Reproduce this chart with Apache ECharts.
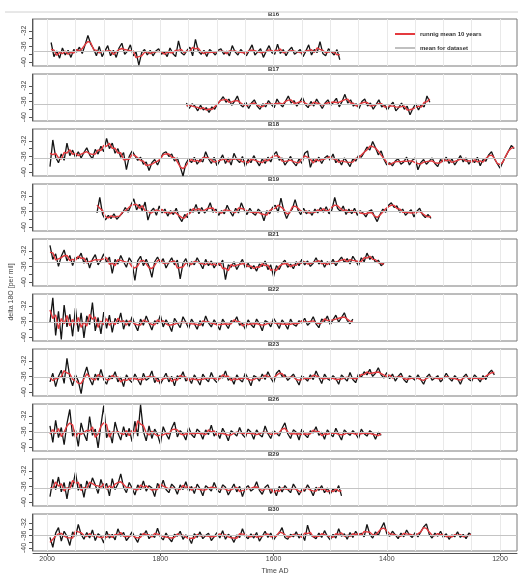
<!DOCTYPE html>
<html>
<head>
<meta charset="utf-8">
<script src="https://cdn.jsdelivr.net/npm/echarts@6/dist/echarts.min.js"></script>
<style>html,body{margin:0;padding:0;background:#fff;}#c{width:518px;height:576px;}</style>
</head>
<body>
<div id="c"></div>
<script>
const seriesNames = ['B16','B17','B18','B19','B21','B22','B23','B26','B29','B30'];
const startYears = [1993,1754,1995,1912,1995,1995,1995,1995,1995,1995];
const yearStep = 5;
const xLabelValues = [2000,1800,1600,1400,1200];
const yTickValues = [-40,-38,-36,-34,-32];
const yLabelValues = [-40,-36,-32];
const gridYears = [2000,1950,1900,1850,1800,1750,1700,1650,1600,1550,1500,1450,1400,1350,1300,1250,1200];
const legendNames = ['runnig mean 10 years','mean for dataset'];

const b16 = [-35.0,-38.6,-37.2,-39.0,-36.4,-38.2,-37.0,-38.8,-36.8,-37.4,
-36.2,-37.8,-35.6,-33.2,-35.4,-36.6,-38.4,-36.0,-38.6,-37.2,
-35.8,-38.4,-37.0,-38.8,-36.4,-35.2,-38.0,-37.2,-35.6,-38.4,
-37.4,-40.8,-37.6,-36.8,-38.2,-37.0,-38.4,-37.2,-36.6,-38.0,
-37.4,-38.6,-36.4,-37.8,-38.6,-34.6,-37.6,-38.2,-37.0,-36.2,
-38.4,-34.2,-37.2,-38.0,-37.0,-38.6,-36.8,-37.4,-38.2,-37.0,
-36.6,-38.0,-37.2,-38.4,-35.8,-37.4,-38.2,-36.8,-37.6,-38.4,
-37.0,-35.6,-38.2,-37.4,-36.6,-38.8,-37.2,-35.8,-37.6,-38.0,
-35.4,-37.8,-36.8,-38.4,-37.0,-36.2,-38.0,-37.4,-36.8,-38.6,
-37.2,-35.6,-38.2,-36.8,-37.6,-34.8,-37.8,-38.4,-36.6,-37.4,
-38.2,-36.8,-39.4];
const b17 = [-36.4,-37.8,-36.6,-37.2,-38.4,-37.0,-38.2,-37.6,-38.8,-37.4,
-38.0,-36.6,-35.8,-34.8,-36.2,-35.4,-37.0,-36.0,-34.6,-36.8,
-37.4,-36.2,-37.8,-36.4,-35.6,-37.2,-38.0,-36.6,-37.4,-35.8,
-36.8,-37.6,-35.4,-36.6,-37.4,-36.0,-34.6,-36.4,-35.8,-37.2,
-36.2,-35.0,-36.8,-37.6,-36.0,-37.2,-35.4,-36.6,-37.8,-36.4,
-35.6,-37.0,-36.2,-35.2,-37.4,-36.0,-34.2,-36.4,-35.6,-37.2,
-36.6,-37.8,-36.0,-35.4,-37.2,-36.4,-38.0,-36.8,-35.6,-37.4,
-36.8,-38.2,-37.0,-36.2,-38.4,-37.6,-36.4,-38.0,-37.2,-39.4,
-37.8,-36.6,-38.2,-36.8,-37.4,-34.6,-36.2];
const b18 = [-38.6,-31.8,-36.2,-37.6,-35.4,-37.0,-32.6,-35.8,-34.4,-36.2,
-34.8,-36.4,-35.0,-33.8,-35.6,-36.6,-34.2,-35.4,-33.4,-34.8,
-31.4,-34.0,-32.6,-35.2,-34.0,-36.2,-35.0,-39.4,-36.0,-34.6,
-35.8,-37.0,-36.2,-38.0,-37.4,-39.6,-37.6,-36.8,-38.2,-36.6,
-35.2,-34.8,-36.0,-35.4,-37.2,-36.4,-38.6,-41.0,-37.8,-36.6,
-37.6,-36.2,-38.0,-36.8,-37.4,-34.8,-36.6,-37.8,-36.2,-38.4,
-37.0,-35.6,-37.8,-36.4,-38.2,-35.2,-36.8,-37.6,-36.0,-38.6,
-36.8,-37.6,-35.8,-37.2,-38.4,-36.6,-37.8,-36.2,-37.4,-35.6,
-34.8,-37.0,-36.4,-38.2,-37.2,-36.0,-37.6,-38.4,-36.6,-37.8,
-35.2,-34.6,-38.8,-36.8,-37.4,-36.2,-37.8,-36.4,-35.8,-37.0,
-35.4,-37.6,-36.8,-38.2,-36.4,-37.4,-38.6,-36.6,-37.2,-35.8,
-36.2,-35.0,-33.6,-34.4,-32.2,-33.8,-35.6,-34.6,-36.8,-38.2,
-37.6,-38.4,-37.2,-36.6,-38.0,-37.4,-36.2,-38.2,-37.0,-36.4,
-39.4,-37.6,-36.8,-38.0,-37.2,-36.4,-37.8,-38.6,-36.8,-37.4,
-36.2,-37.8,-36.6,-38.2,-37.0,-35.8,-37.4,-36.4,-38.0,-36.8,
-37.6,-36.2,-38.4,-36.8,-37.2,-35.6,-34.8,-36.6,-37.8,-39.0,
-37.4,-36.0,-34.6,-33.2,-34.0];
const b19 = [-36.4,-32.4,-36.8,-38.2,-37.0,-37.8,-36.6,-38.0,-37.2,-36.4,
-35.0,-36.2,-34.4,-32.8,-35.6,-34.2,-35.8,-33.6,-38.2,-36.0,
-35.2,-37.0,-34.6,-36.4,-35.4,-37.2,-35.8,-36.8,-35.2,-37.4,
-38.6,-36.8,-37.6,-35.4,-36.2,-34.2,-36.6,-35.0,-36.4,-35.6,
-33.8,-36.2,-35.4,-37.0,-35.8,-36.6,-34.4,-36.0,-37.2,-35.2,
-36.4,-33.8,-35.6,-36.8,-35.2,-36.4,-37.0,-35.4,-36.2,-38.4,
-35.8,-36.6,-35.0,-34.4,-36.2,-32.6,-35.8,-37.8,-36.2,-35.4,
-33.0,-35.6,-36.8,-35.2,-36.6,-35.8,-37.0,-35.4,-36.4,-35.0,
-36.2,-34.8,-36.6,-35.6,-32.4,-35.2,-36.0,-34.6,-36.8,-35.4,
-36.6,-35.2,-37.0,-35.8,-36.4,-37.4,-36.0,-35.6,-37.2,-38.6,
-36.8,-35.4,-36.2,-34.4,-33.8,-35.0,-34.6,-36.2,-35.4,-37.0,
-36.2,-35.6,-37.4,-36.0,-35.2,-36.8,-37.6,-36.8,-37.8];
const b21 = [-30.6,-34.2,-32.8,-36.0,-33.4,-31.8,-34.6,-33.2,-35.8,-33.6,
-34.0,-32.6,-35.2,-33.8,-36.4,-34.2,-33.0,-35.6,-34.4,-32.8,
-35.0,-33.6,-37.8,-34.2,-35.4,-33.2,-34.8,-36.2,-33.8,-35.0,
-39.6,-34.6,-33.4,-35.8,-34.2,-36.0,-38.8,-34.8,-33.6,-35.2,
-34.0,-36.4,-35.0,-33.8,-35.6,-34.4,-39.2,-35.2,-34.0,-36.2,
-34.8,-35.6,-33.8,-35.2,-36.6,-34.2,-35.8,-34.6,-36.4,-35.0,
-35.8,-34.4,-39.4,-35.6,-36.2,-34.8,-36.8,-35.4,-34.2,-36.4,
-35.2,-36.6,-35.8,-37.2,-35.4,-36.0,-34.6,-36.8,-35.6,-38.6,
-35.8,-36.8,-35.2,-34.4,-36.2,-35.4,-36.6,-34.8,-35.8,-34.2,
-35.6,-34.6,-36.0,-35.2,-33.8,-35.4,-34.4,-36.2,-34.8,-35.6,
-34.2,-35.8,-34.6,-33.6,-35.0,-34.0,-35.4,-33.4,-34.6,-35.8,
-33.8,-34.8,-32.6,-34.2,-33.4,-35.0,-34.4,-35.8,-35.2];
const b22 = [-36.2,-30.0,-39.6,-33.4,-40.6,-31.8,-37.4,-34.2,-39.8,-32.6,
-38.6,-33.8,-40.2,-34.6,-36.8,-31.2,-38.4,-35.0,-39.2,-33.6,
-37.8,-34.4,-38.8,-35.2,-36.6,-33.8,-38.0,-35.6,-37.2,-34.8,
-36.8,-38.4,-35.4,-37.0,-34.6,-36.4,-38.2,-35.8,-36.6,-34.4,
-37.4,-35.6,-36.8,-38.6,-35.2,-36.4,-37.6,-34.8,-36.2,-37.8,
-35.4,-36.6,-38.0,-35.8,-37.2,-34.6,-36.4,-37.4,-35.6,-36.8,
-38.2,-35.4,-36.6,-37.8,-35.8,-36.2,-34.8,-37.0,-36.4,-38.0,
-35.6,-36.8,-37.6,-35.4,-36.6,-38.4,-35.8,-36.2,-37.4,-35.2,
-36.4,-37.8,-35.6,-36.6,-38.0,-35.4,-36.8,-37.2,-35.8,-36.4,
-35.2,-37.0,-36.2,-34.8,-36.6,-37.6,-35.4,-36.0,-34.6,-36.8,
-35.6,-34.4,-36.2,-35.0,-33.8,-35.8,-36.6,-35.4];
const b23 = [-37.4,-35.2,-38.6,-36.0,-34.4,-37.8,-31.4,-36.2,-38.4,-35.6,
-37.2,-40.4,-35.8,-33.6,-36.6,-38.2,-35.4,-37.0,-34.2,-36.8,
-38.0,-35.8,-36.6,-34.8,-37.4,-36.2,-38.6,-35.6,-36.8,-37.6,
-35.4,-36.8,-38.2,-35.2,-37.0,-36.4,-34.6,-37.6,-36.2,-38.0,
-36.6,-35.2,-37.4,-36.0,-38.4,-35.8,-36.6,-34.8,-37.2,-36.4,
-37.8,-35.6,-36.8,-38.2,-35.4,-36.6,-37.4,-35.0,-36.8,-37.6,
-35.8,-36.4,-34.6,-37.0,-36.2,-38.0,-35.6,-36.8,-37.4,-35.2,
-36.6,-38.4,-35.8,-36.2,-37.2,-35.4,-36.8,-34.8,-36.4,-37.6,
-35.2,-34.4,-36.0,-35.6,-37.0,-36.2,-35.4,-36.8,-38.2,-35.8,
-36.4,-37.2,-35.6,-36.8,-34.6,-36.2,-37.8,-35.4,-36.6,-37.0,
-35.8,-36.6,-38.0,-35.6,-36.4,-37.2,-35.0,-36.8,-37.6,-35.4,
-36.2,-34.8,-35.6,-34.2,-36.0,-35.2,-33.8,-35.6,-36.4,-35.0,
-36.6,-35.4,-37.2,-36.0,-35.2,-36.8,-37.6,-35.8,-36.4,-37.0,
-35.6,-36.8,-38.0,-36.2,-35.4,-37.0,-36.4,-35.8,-37.4,-36.6,
-35.2,-36.4,-37.2,-35.8,-36.6,-38.0,-36.2,-35.4,-36.8,-37.2,
-35.6,-36.4,-37.4,-35.8,-36.8,-35.2,-34.4,-35.6];
const b26 = [-34.6,-38.8,-33.2,-37.6,-35.0,-39.4,-34.0,-30.4,-37.2,-35.6,
-39.8,-33.8,-36.6,-38.4,-32.2,-37.0,-35.4,-40.2,-34.4,-29.4,
-37.6,-35.8,-39.0,-33.6,-36.4,-38.2,-34.8,-37.4,-35.2,-38.6,
-33.4,-37.2,-29.2,-36.0,-38.4,-34.6,-37.8,-35.4,-36.8,-39.2,
-34.8,-36.6,-38.0,-35.2,-33.6,-37.4,-35.8,-36.6,-38.2,-35.0,
-36.8,-37.6,-35.4,-36.2,-38.0,-35.6,-36.8,-34.4,-37.2,-36.0,
-37.8,-35.2,-36.6,-38.4,-35.8,-36.4,-37.2,-35.0,-36.8,-37.6,
-35.4,-36.2,-38.0,-35.6,-36.8,-37.4,-34.6,-36.6,-37.8,-35.8,
-36.4,-37.2,-35.2,-33.8,-36.6,-37.8,-35.6,-36.2,-38.2,-35.4,
-36.8,-37.6,-35.8,-36.4,-34.8,-37.0,-36.2,-38.0,-35.6,-36.6,
-37.4,-35.2,-36.8,-38.2,-35.6,-36.4,-37.0,-35.8,-36.6,-37.8,
-35.4,-36.6,-37.2,-35.8,-36.4,-38.0,-36.2,-37.0];
const b29 = [-38.6,-34.2,-36.8,-33.6,-37.4,-35.0,-39.2,-34.8,-36.2,-32.4,
-37.0,-35.4,-38.8,-34.6,-36.4,-33.8,-35.6,-37.8,-34.2,-36.6,
-35.2,-38.4,-34.0,-36.8,-35.4,-32.8,-36.2,-37.6,-35.0,-36.4,
-38.2,-35.6,-36.8,-34.6,-37.2,-35.8,-36.4,-38.6,-35.2,-36.6,
-34.4,-36.8,-37.6,-35.4,-36.2,-38.0,-35.6,-36.8,-34.8,-37.2,
-36.0,-37.8,-35.4,-36.6,-38.4,-35.8,-36.4,-37.2,-35.0,-36.8,
-37.6,-35.6,-36.2,-38.2,-36.8,-35.4,-37.4,-36.0,-38.6,-36.4,
-35.8,-37.2,-36.6,-34.8,-37.0,-38.0,-36.2,-35.6,-37.8,-36.6,
-38.4,-36.0,-37.4,-35.8,-36.8,-37.6,-35.4,-36.6,-38.2,-36.8,
-37.2,-35.6,-36.8,-38.4,-36.2,-37.0,-35.8,-37.6,-36.4,-38.0,
-36.6,-37.4,-35.8,-38.4];
const b30 = [-36.6,-39.8,-35.2,-33.4,-37.8,-34.6,-36.2,-39.2,-34.8,-36.4,
-32.4,-35.6,-37.2,-35.0,-36.8,-34.2,-37.6,-35.4,-36.2,-38.4,
-34.6,-36.8,-35.6,-37.4,-33.8,-36.2,-35.0,-37.6,-36.4,-34.8,
-36.6,-38.2,-35.4,-36.0,-34.4,-37.0,-35.8,-36.6,-33.6,-36.4,
-37.4,-35.2,-36.8,-38.0,-35.6,-36.2,-34.6,-37.2,-35.8,-36.6,
-38.6,-35.4,-36.6,-34.8,-37.0,-36.0,-35.2,-37.6,-36.4,-35.0,
-36.8,-34.4,-37.2,-35.6,-36.4,-38.2,-35.8,-36.6,-33.8,-36.2,
-37.0,-35.4,-36.8,-35.0,-37.8,-36.2,-34.6,-36.6,-35.2,-37.4,
-36.0,-35.2,-33.4,-36.6,-37.2,-35.6,-36.4,-34.8,-36.8,-35.4,
-37.6,-32.6,-35.8,-36.4,-37.0,-35.2,-36.6,-34.4,-36.2,-37.4,
-35.6,-36.8,-33.8,-36.2,-35.4,-37.2,-35.0,-36.6,-34.6,-36.0,
-35.2,-36.4,-32.4,-35.6,-36.8,-34.8,-36.0,-33.6,-31.8,-35.4,
-36.2,-34.6,-35.8,-37.0,-35.2,-36.4,-34.2,-35.8,-36.6,-35.0,
-36.4,-34.8,-33.2,-32.2,-35.6,-36.8,-35.2,-36.2,-34.6,-36.6,
-35.4,-37.2,-35.8,-36.4,-34.8,-36.6,-35.6,-37.0,-35.2,-35.8];

const dataSets = [b16,b17,b18,b19,b21,b22,b23,b26,b29,b30];

// layout / style constants
const X_MIN = 1170, X_MAX = 2025, Y_MIN = -41, Y_MAX = -29;
const BOX_LEFT = 33, BOX_RIGHT = 1, BOX_TOP0 = 19, BOX_PITCH = 55, BOX_H = 47;
const nPanels = seriesNames.length;

function toPairs(vals, start) {
  return vals.map((v, i) => [start - i * yearStep, v]);
}
function runningMean(vals, half) {
  return vals.map((v, i) => {
    let s = 0, n = 0;
    for (let k = i - half; k <= i + half; k++) {
      if (k >= 0 && k < vals.length) { s += vals[k]; n++; }
    }
    return s / n;
  });
}
function mean(vals) { return vals.reduce((a, b) => a + b, 0) / vals.length; }

const grids = [], xAxes = [], yAxes = [], series = [], graphics = [];
for (let i = 0; i < nPanels; i++) {
  const last = i === nPanels - 1;
  const top = BOX_TOP0 + BOX_PITCH * i;
  grids.push({left: BOX_LEFT, right: BOX_RIGHT, top: top, height: BOX_H,
    show: true, borderColor: '#7a7a7a', borderWidth: 1, backgroundColor: 'rgba(0,0,0,0)'});
  xAxes.push({type: 'value', gridIndex: i, min: X_MIN, max: X_MAX, inverse: true,
    axisLine: {show: last, onZero: false, lineStyle: {color: '#555', width: 1}},
    offset: last ? 2 : 0,
    axisTick: {show: last, length: 3, customValues: xLabelValues, lineStyle: {color: '#555'}},
    axisLabel: {show: last, customValues: xLabelValues, fontSize: 7, color: '#444', margin: 3,
      fontFamily: 'Liberation Sans', formatter: v => String(v)},
    splitLine: {show: false},
    name: last ? 'Time AD' : '', nameLocation: 'middle', nameGap: 15,
    nameTextStyle: {fontSize: 7, color: '#444', fontFamily: 'Liberation Sans'}
  });
  yAxes.push({type: 'value', gridIndex: i, min: Y_MIN, max: Y_MAX,
    axisLine: {show: true, onZero: false, lineStyle: {color: '#555', width: 1}},
    offset: 1,
    axisTick: {show: true, length: 3, customValues: yTickValues, lineStyle: {color: '#555'}},
    axisLabel: {show: true, customValues: yLabelValues, rotate: 90, fontSize: 7, color: '#444', margin: 4,
      fontFamily: 'Liberation Sans', formatter: v => String(v)},
    splitLine: {show: false}
  });
  const vals = dataSets[i];
  const start = startYears[i];
  const m = mean(vals);
  series.push({name: legendNames[1], type: 'line', xAxisIndex: i, yAxisIndex: i, data: [],
    color: '#c0c0c0', z: 1, silent: true,
    markLine: {silent: true, symbol: 'none', animation: false, label: {show: false},
      lineStyle: {color: '#e9e9e9', type: 'solid', width: 1},
      data: gridYears.map(y => ({xAxis: y}))}
  });
  series.push({name: legendNames[1], type: 'line', xAxisIndex: i, yAxisIndex: i, data: [],
    color: '#c0c0c0', z: 2, silent: true,
    markLine: {silent: true, symbol: 'none', animation: false, label: {show: false},
      lineStyle: {color: '#c4c4c4', type: 'solid', width: 1.2},
      data: [{yAxis: m}]}
  });
  series.push({name: seriesNames[i], type: 'line', xAxisIndex: i, yAxisIndex: i,
    data: toPairs(vals, start), showSymbol: false, animation: false, z: 3,
    lineStyle: {color: '#141414', width: 1.3}, color: '#141414'});
  series.push({name: legendNames[0], type: 'line', xAxisIndex: i, yAxisIndex: i,
    data: toPairs(runningMean(vals, 1), start), showSymbol: false, animation: false, z: 4,
    lineStyle: {color: '#e43a3f', width: 1.4}, color: '#e43a3f'});
  graphics.push({type: 'text', left: BOX_LEFT + (518 - BOX_LEFT - BOX_RIGHT) / 2 - 7, top: top - 8,
    style: {text: seriesNames[i], fontSize: 6, fontWeight: 'bold', fill: '#333', fontFamily: 'Liberation Sans'}});
}
graphics.push({type: 'line', shape: {x1: 5, y1: 12, x2: 518, y2: 12}, style: {stroke: '#d0d0d0', lineWidth: 1}});
graphics.push({type: 'text', x: 11, y: 292, rotation: Math.PI / 2,
  style: {text: 'delta 18O [per mil]', fontSize: 7, fill: '#444', align: 'center', verticalAlign: 'middle', fontFamily: 'Liberation Sans'}});

const legendText = {fontSize: 6, fontWeight: 'bold', color: '#333', fontFamily: 'Liberation Sans'};
const chart = echarts.init(document.getElementById('c'), null, {renderer: 'canvas'});
chart.setOption({
  animation: false,
  backgroundColor: '#fff',
  grid: grids, xAxis: xAxes, yAxis: yAxes, series: series,
  legend: {data: [
      {name: legendNames[0], icon: 'rect', itemStyle: {color: '#e43a3f'}, textStyle: legendText},
      {name: legendNames[1], icon: 'rect', itemStyle: {color: '#c0c0c0'}, textStyle: legendText}],
    orient: 'vertical', left: 390, top: 26, itemWidth: 20, itemHeight: 2, itemGap: 8,
    textStyle: legendText, selectedMode: false, z: 10},
  graphic: graphics
});
</script>
</body>
</html>
